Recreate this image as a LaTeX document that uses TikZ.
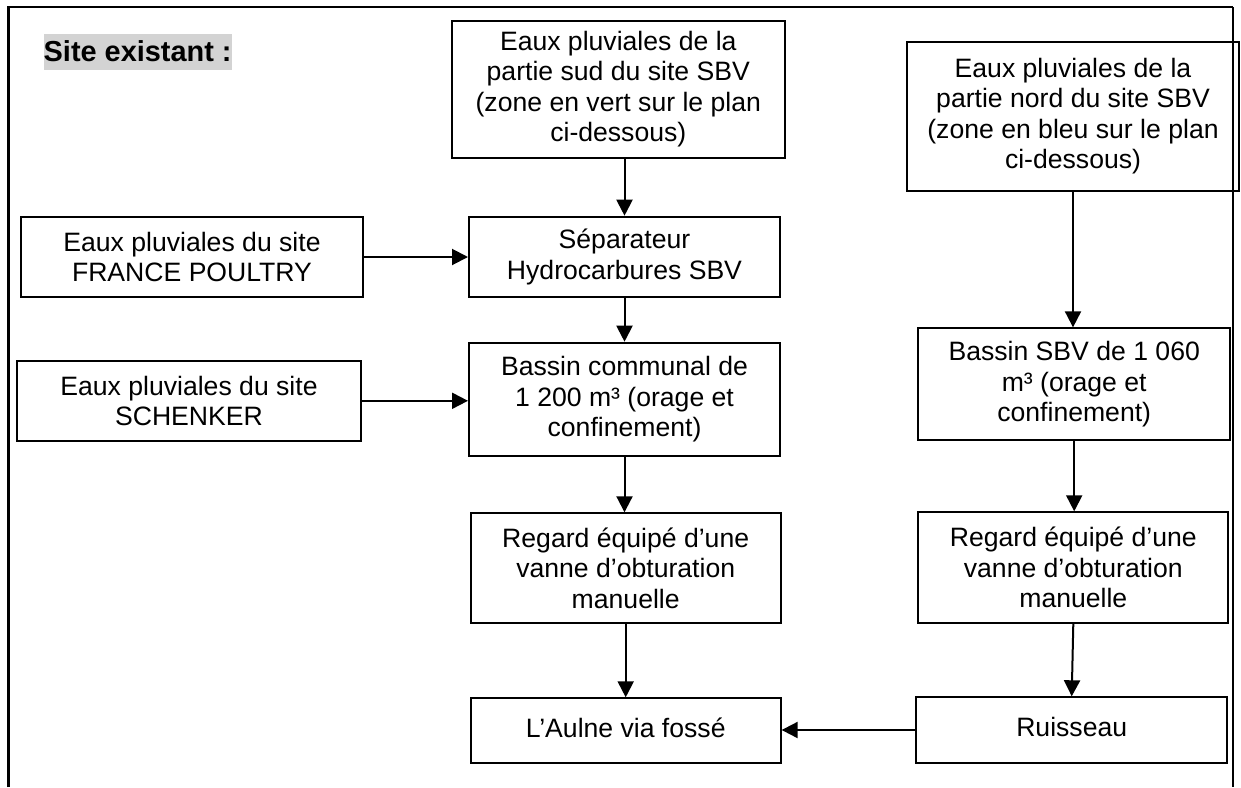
\documentclass[tikz,border=0pt]{standalone}
\usepackage{fontspec}
\setmainfont{Liberation Sans}
\usetikzlibrary{arrows.meta}
\definecolor{titlegray}{RGB}{211,211,211}
\begin{document}
\begin{tikzpicture}[x=0.5pt,y=-0.5pt,
  box/.style={draw, line width=1pt, rectangle, align=center, inner sep=0pt,
    font=\fontsize{13.3pt}{15.2pt}\selectfont},
  onebox/.style={box, text height=11pt, text depth=4.5pt},
  flow/.style={draw, line width=1pt, -{Triangle[length=8pt,width=8pt]}},
]
\useasboundingbox (0,0) rectangle (1241,787);
% frame
\draw[line width=1.35pt] (8.5,787) -- (8.5,7) -- (1233,7);
\draw[line width=1pt] (1233,7) -- (1233,787);
% title
\node[fill=titlegray, inner sep=0pt, text height=13.85pt, text depth=4.15pt,
  anchor=base west, font=\bfseries\fontsize{14.45pt}{17pt}\selectfont]
  (title) at (43.3,61.7) {Site existant :};
% boxes
\node[box, minimum width=166.65pt, minimum height=68.65pt] (sud) at (618.3,89.3)
  {Eaux pluviales de la\\partie sud du site SBV\\(zone en vert sur le plan\\ci-dessous)};
\node[box, minimum width=155.5pt, minimum height=40.3pt] (sep) at (624.5,257)
  {Séparateur\\Hydrocarbures SBV};
\node[box, minimum width=171.3pt, minimum height=40.3pt] (fp) at (192,257)
  {Eaux pluviales du site\\FRANCE POULTRY};
\node[box, minimum width=171.7pt, minimum height=40.15pt] (sch) at (189,400.8)
  {Eaux pluviales du site\\SCHENKER};
\node[box, minimum width=155.5pt, minimum height=56.5pt] (bc) at (624.5,399.2)
  {Bassin communal de\\1 200 m³ (orage et\\confinement)};
\node[box, minimum width=155pt, minimum height=55pt] (regL) at (625.7,568.3)
  {Regard équipé d’une\\vanne d’obturation\\manuelle};
\node[onebox, minimum width=154.85pt, minimum height=32.5pt] (aulne) at (625.8,730.8)
  {L’Aulne via fossé};
\node[box, minimum width=166.3pt, minimum height=74.65pt] (nord) at (1073,116.3)
  {Eaux pluviales de la\\partie nord du site SBV\\(zone en bleu sur le plan\\ci-dessous)};
\node[box, minimum width=155.85pt, minimum height=55.85pt] (bsbv) at (1074.2,384.2)
  {Bassin SBV de 1 060\\m³ (orage et\\confinement)};
\node[box, minimum width=155pt, minimum height=55.2pt] (regR) at (1073.3,567.5)
  {Regard équipé d’une\\vanne d’obturation\\manuelle};
\node[onebox, minimum width=155.65pt, minimum height=32.7pt] (ruis) at (1071.7,730)
  {Ruisseau};
% connectors
\draw[flow] (sud.south -| sep.north) -- (sep.north);
\draw[flow] (fp.east) -- (fp.east -| sep.west);
\draw[flow] (sep.south) -- (bc.north);
\draw[flow] (sch.east) -- (sch.east -| bc.west);
\draw[flow] (bc.south) -- (bc.south |- regL.north);
\draw[flow] (regL.south) -- (regL.south |- aulne.north);
\draw[flow] (nord.south) -- (nord.south |- bsbv.north);
\draw[flow] (bsbv.south) -- (bsbv.south |- regR.north);
\draw[flow] (regR.south) -- (ruis.north);
\draw[flow] (ruis.west) -- (ruis.west -| aulne.east);
\end{tikzpicture}
\end{document}
